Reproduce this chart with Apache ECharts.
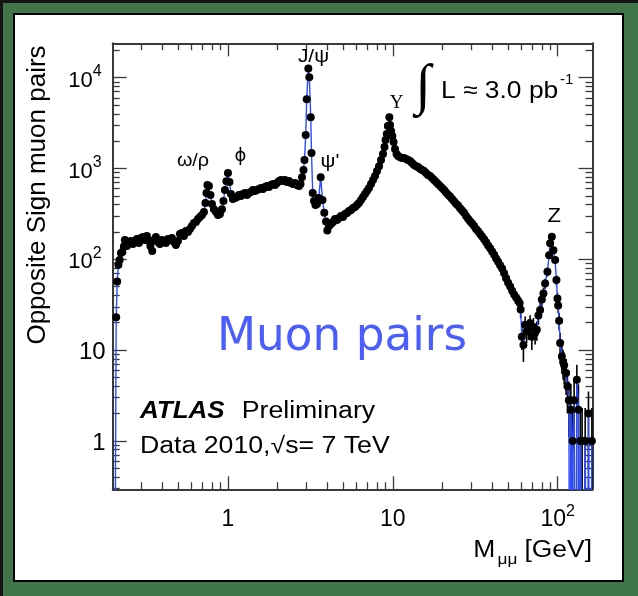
<!DOCTYPE html>
<html>
<head>
<meta charset="utf-8">
<script src="https://cdn.jsdelivr.net/npm/echarts@6/dist/echarts.min.js"></script>
<style>
  html, body { margin: 0; padding: 0; width: 638px; height: 596px; overflow: hidden; background: #40754a; }
  #frame { position: absolute; left: 0; top: 0; width: 638px; height: 596px; background: #40754a;
           box-sizing: border-box; border-top: 3px solid #141414; border-left: 3px solid #141414; }
  #panel { position: absolute; left: 13px; top: 13px; width: 611px; height: 569px; background: #fff;
           box-sizing: border-box; border: 2.5px solid #000; }
  #chart { position: absolute; left: 0; top: 0; width: 638px; height: 596px; }
</style>
</head>
<body>
<div id="frame"></div>
<div id="panel"></div>
<div id="chart"></div>
<script>
// Opposite-sign dimuon invariant mass spectrum, ATLAS 2010 (7 TeV, ~3 pb^-1)
const massGeV = [
  0.2048, 0.210, 0.213, 0.2166, 0.2202, 0.2243, 0.229, 0.2338, 0.2371, 0.2438,
  0.2507, 0.2578, 0.2651, 0.2726, 0.2803, 0.2884, 0.2965, 0.3049, 0.3135, 0.3224,
  0.3316, 0.3386, 0.3473, 0.3556, 0.3657, 0.376, 0.3867, 0.3977, 0.409, 0.4205,
  0.4325, 0.4447, 0.4573, 0.4703, 0.4836, 0.4973, 0.5114, 0.5259, 0.5408, 0.5561,
  0.5719, 0.5881, 0.6047, 0.6219, 0.6395, 0.6577, 0.6763, 0.6955, 0.7152, 0.7304,
  0.7406, 0.751, 0.767, 0.783, 0.800, 0.822, 0.846, 0.870, 0.894, 0.920,
  0.939, 0.959, 0.979, 1.000, 1.021, 1.043, 1.072, 1.103, 1.134, 1.166,
  1.199, 1.233, 1.268, 1.304, 1.341, 1.379, 1.418, 1.458, 1.500, 1.542,
  1.586, 1.631, 1.677, 1.724, 1.773, 1.823, 1.875, 1.928, 1.983, 2.039,
  2.097, 2.157, 2.218, 2.280, 2.345, 2.412, 2.480, 2.550, 2.623, 2.697,
  2.754, 2.812, 2.871, 2.912, 2.962, 3.004, 3.072, 3.115, 3.177, 3.212,
  3.266, 3.326, 3.396, 3.467, 3.551, 3.651, 3.744, 3.839, 3.933, 4.004,
  4.102, 4.217, 4.336, 4.459, 4.585, 4.714, 4.850, 4.987, 5.129, 5.274,
  5.423, 5.577, 5.735, 5.897, 6.064, 6.235, 6.412, 6.594, 6.780, 6.972,
  7.170, 7.373, 7.582, 7.798, 8.018, 8.246, 8.479, 8.719, 8.904, 9.030,
  9.183, 9.326, 9.524, 9.616, 9.752, 9.931, 10.10, 10.31, 10.53, 10.76,
  11.06, 11.37, 11.70, 12.03, 12.37, 12.72, 13.08, 13.45, 13.83, 14.22,
  14.62, 15.04, 15.46, 15.90, 16.35, 16.82, 17.29, 17.78, 18.29, 18.80,
  19.34, 19.89, 20.45, 21.03, 21.63, 22.24, 22.87, 23.52, 24.18, 24.87,
  25.57, 26.30, 27.04, 27.81, 28.60, 29.41, 30.24, 31.10, 31.98, 32.89,
  33.82, 34.78, 35.77, 36.78, 37.82, 38.89, 39.99, 41.13, 42.29, 43.49,
  44.72, 45.99, 47.30, 48.63, 50.01, 51.43, 52.89, 54.38, 55.93, 57.51,
  58.73, 59.56, 60.56, 61.93, 63.42, 64.76, 66.41, 68.00, 69.64, 71.21,
  72.93, 74.68, 76.37, 78.20, 80.08, 81.89, 83.86, 86.60, 88.68, 89.93,
  92.09, 94.17, 96.42, 98.20, 99.58, 100.6, 102.0, 103.4, 105.9, 107.8,
  109.4, 112.4, 114.5, 116.8, 118.4, 120.1, 121.4, 123.1, 125.7, 128.0,
  130.6, 133.5, 135.2, 137.3, 140.6, 143.6, 146.7, 150.0, 153.6, 157.3, 161.1
];

const pairCounts = [
  0, 23, 57, 87, 98, 117, 120, 138, 163, 140,
  151, 159, 147, 159, 167, 151, 172, 176, 163, 181,
  159, 140, 123, 163, 176, 155, 147, 163, 155, 151,
  167, 163, 172, 155, 144, 159, 190, 195, 181, 205,
  200, 215, 233, 251, 258, 278, 292, 307, 332, 417,
  536, 657, 641, 510, 406, 356, 332, 307, 316, 356,
  439, 580, 724, 891, 710, 524, 461, 473, 486, 510,
  498, 524, 537, 510, 537, 551, 580, 565, 580, 595,
  610, 595, 625, 641, 625, 658, 675, 658, 692, 728,
  747, 728, 747, 710, 728, 692, 675, 692, 658, 641,
  675, 800, 963, 1240, 2330, 5800, 12600, 10100, 3660, 1480,
  537, 439, 396, 406, 473, 800, 450, 326, 260, 207,
  233, 245, 258, 278, 271, 285, 300, 292, 316, 324,
  340, 349, 367, 376, 396, 417, 450, 486, 524, 565,
  610, 675, 747, 826, 940, 1060, 1240, 1440, 1720, 2060,
  2400, 2940, 3660, 3020, 2580, 2280, 1960, 1640, 1440, 1370,
  1330, 1300, 1300, 1270, 1240, 1210, 1150, 1090, 1060, 1040,
  990, 963, 940, 891, 847, 826, 785, 747, 710, 675,
  641, 610, 580, 545, 515, 490, 460, 435, 410, 390,
  365, 345, 325, 300, 280, 262, 248, 232, 215, 203,
  190, 178, 166, 154, 142, 132, 122, 112, 102, 94,
  86, 79, 70, 62, 55, 50, 45, 41, 38, 35,
  33, 28, 14, 11.4, 19, 16, 17.4, 19.7, 14, 18,
  15.5, 16.7, 24, 27.6, 36, 42, 54, 73, 111, 150,
  177, 126, 98, 59, 37, 31, 21, 12, 8.5, 7.4,
  6.8, 5.6, 4.0, 2.8, 0, 2.2, 0, 1, 2.8, 0,
  4.7, 2.2, 0, 1, 1, 0, 1, 0, 2, 0, 1
];

// Statistical uncertainties of the last bins (from 58.7 GeV upward); 0 = no bar
const tailErrors = [
  6, 5.5, 4, 4, 4.5, 4, 4.5, 4.5, 4, 4.5,
  4, 4, 5, 5.5, 6, 6.5, 7, 8.5, 10, 12,
  13, 11, 10, 7.5, 6, 5.5, 4.5, 3.5, 3, 2.7,
  2.6, 2.4, 2, 1.7, 0, 2, 0, 1.3, 2, 0,
  2.2, 2, 0, 1.3, 1.3, 0, 1.3, 0, 1.5, 0, 1.3
];

const xMajorTicks = [1, 10, 100];
const xMinorTicks = [0.3, 0.4, 0.5, 0.6, 0.7, 0.8, 0.9, 2, 3, 4, 5, 6, 7, 8, 9,
                     20, 30, 40, 50, 60, 70, 80, 90];
const yMajorTicks = [1, 10, 100, 1000, 10000];
const yPlainLabels = [1, 10];
const yPowerLabels = [100, 1000, 10000];
const yMinorTicks = [0.3, 0.4, 0.5, 0.6, 0.7, 0.8, 0.9, 2, 3, 4, 5, 6, 7, 8, 9,
                     20, 30, 40, 50, 60, 70, 80, 90, 200, 300, 400, 500, 600, 700, 800, 900,
                     2000, 3000, 4000, 5000, 6000, 7000, 8000, 9000, 20000];

const X_RANGE = [0.2, 162.5];
const Y_RANGE = [0.293, 23900];
const EMPTY_LEVEL = 1e-3;   // empty bins fall to the bottom of the log axis
const AXIS_COLOR = '#3a3a3a';
const FONT = 'Liberation Sans';

const lineData = massGeV.map((m, i) => pairCounts[i] > 0
  ? [m, pairCounts[i]]
  : { value: [m, EMPTY_LEVEL], symbol: 'none' });

const firstTail = massGeV.length - tailErrors.length;
const errorData = [];
tailErrors.forEach((e, k) => {
  if (e > 0) {
    const i = firstTail + k;
    errorData.push([massGeV[i], Math.max(pairCounts[i] - e, EMPTY_LEVEL), pairCounts[i] + e]);
  }
});

// "1", "10", then 10^n written with a superscript exponent
function powerLabel(v) {
  const e = Math.round(Math.log10(v));
  if (e === 0) return '{p|1}';
  if (e === 1) return '{p|10}';
  return '{b|10}{s|' + e + '}';
}

function makeRich(plainSize, baseSize, supSize) {
  return {
    p: { fontFamily: FONT, fontSize: plainSize, lineHeight: 28, color: '#000', verticalAlign: 'bottom' },
    b: { fontFamily: FONT, fontSize: baseSize, lineHeight: 28, color: '#000', verticalAlign: 'bottom' },
    s: { fontFamily: FONT, fontSize: supSize, lineHeight: 18, color: '#000', verticalAlign: 'top' }
  };
}

function logAxis(range, position, ticks, tickLen, drawLine, label) {
  return {
    type: 'log', logBase: 10, min: range[0], max: range[1], position: position,
    gridIndex: 0,
    axisLine: { show: drawLine, onZero: false, lineStyle: { color: AXIS_COLOR, width: 2 } },
    axisTick: { show: true, inside: true, length: tickLen, customValues: ticks,
                lineStyle: { color: AXIS_COLOR, width: 1.3 } },
    axisLabel: label ? label : { show: false },
    splitLine: { show: false },
    minorTick: { show: false },
    minorSplitLine: { show: false }
  };
}

const xLabel = {
  show: true, customValues: xMajorTicks, margin: 14, formatter: powerLabel,
  rich: makeRich(23, 23, 16)
};
const yPlainLabel = {
  show: true, customValues: yPlainLabels, margin: 7, formatter: powerLabel,
  rich: makeRich(24, 22, 16)
};
// powers of ten start at a fixed distance left of the axis
const yPowerLabel = {
  show: true, customValues: yPowerLabels, margin: 44.5, align: 'left', formatter: powerLabel,
  rich: makeRich(24, 22, 16)
};

function txt(x, y, text, size, opts) {
  opts = opts || {};
  return {
    type: 'text', x: x, y: y, z: 50, scaleX: opts.sx || 1, rotation: opts.rot || 0,
    style: {
      text: text, fill: opts.color || '#000',
      fontFamily: opts.family || FONT, fontSize: size,
      fontWeight: opts.weight || 'normal', fontStyle: opts.style || 'normal',
      align: opts.align || 'left', verticalAlign: 'middle'
    }
  };
}

const option = {
  animation: false,
  backgroundColor: 'transparent',
  grid: { left: 112.7, right: 45.5, top: 43.3, bottom: 106.7, containLabel: false, outerBoundsMode: 'none' },
  xAxis: [
    logAxis(X_RANGE, 'bottom', xMajorTicks, 13, true, xLabel),
    logAxis(X_RANGE, 'bottom', xMinorTicks, 7, false, null),
    logAxis(X_RANGE, 'top', xMajorTicks, 13, true, null),
    logAxis(X_RANGE, 'top', xMinorTicks, 7, false, null)
  ],
  yAxis: [
    logAxis(Y_RANGE, 'left', yMajorTicks, 14, true, yPlainLabel),
    logAxis(Y_RANGE, 'left', yMinorTicks, 7, false, yPowerLabel),
    logAxis(Y_RANGE, 'right', yMajorTicks, 14, true, null),
    logAxis(Y_RANGE, 'right', yMinorTicks, 7, false, null)
  ],
  series: [
    {
      type: 'custom', name: 'errors', xAxisIndex: 0, yAxisIndex: 0, data: errorData,
      clip: true, silent: true, z: 3,
      encode: { x: 0, y: [1, 2] },
      renderItem: function (params, api) {
        const lo = api.coord([api.value(0), api.value(1)]);
        const hi = api.coord([api.value(0), api.value(2)]);
        return { type: 'line', shape: { x1: lo[0], y1: lo[1], x2: hi[0], y2: hi[1] },
                 style: { stroke: '#000', lineWidth: 1.6 } };
      }
    },
    {
      type: 'line', name: 'Data 2010', xAxisIndex: 0, yAxisIndex: 0, data: lineData,
      clip: true, silent: true, z: 4,
      symbol: 'circle', symbolSize: 8, showAllSymbol: true,
      lineStyle: { color: '#2d4bff', width: 1.4 },
      itemStyle: { color: '#000', borderWidth: 0 }
    }
  ],
  graphic: [
    // axis titles
    txt(37.7, 195, 'Opposite Sign muon pairs', 26, { align: 'center', rot: Math.PI / 2 }),
    txt(473.3, 550.3, 'M', 23, { sx: 1.15 }),
    txt(497.5, 559.8, 'μμ', 15, { sx: 1.15 }),
    txt(592, 550.3, '[GeV]', 23, { sx: 1.15, align: 'right' }),
    // resonance labels
    txt(193, 160.6, 'ω/ρ', 18, { sx: 1.1, align: 'center' }),
    txt(240.5, 156.8, 'ϕ', 18, { align: 'center', family: 'DejaVu Sans' }),
    txt(313.5, 56.4, 'J/ψ', 19, { sx: 1.1, align: 'center' }),
    txt(320.5, 161.9, "ψ'", 19, { sx: 1.1 }),
    txt(396.5, 103.4, 'Υ', 19, { align: 'center', family: 'Liberation Serif' }),
    txt(554.2, 216.4, 'Z', 20, { sx: 1.1, align: 'center' }),
    // luminosity
    txt(423, 88, '∫', 56, { align: 'center', family: 'Liberation Serif' }),
    txt(441, 91.7, 'L ≈ 3.0 pb', 24, { sx: 1.1 }),
    txt(560, 79.8, '-1', 15),
    // experiment and dataset
    txt(140, 412, 'ATLAS', 23, { sx: 1.13, weight: 'bold', style: 'italic' }),
    txt(241.7, 412, 'Preliminary', 23, { sx: 1.16 }),
    txt(140, 446.3, 'Data 2010,√s= 7 TeV', 23, { sx: 1.16 }),
    // title
    txt(217, 337.6, 'Muon pairs', 46, { family: 'DejaVu Sans', color: '#4b5dfa', sx: 0.985 })
  ]
};

const chart = echarts.init(document.getElementById('chart'), null, { renderer: 'canvas' });
chart.setOption(option);
</script>
</body>
</html>
